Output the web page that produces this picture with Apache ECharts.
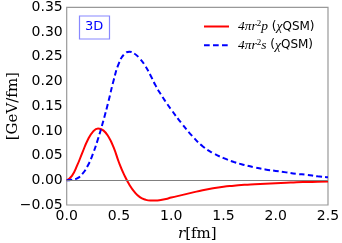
<!DOCTYPE html>
<html><head><meta charset="utf-8">
<script src="https://cdn.jsdelivr.net/npm/echarts@6/dist/echarts.min.js"></script>
<style>html,body{margin:0;padding:0;background:#fff}#c{width:342px;height:243px}</style>
</head><body><div id="c"></div>
<script>
const rValues = [0,0.05,0.1,0.15,0.2,0.25,0.3,0.35,0.4,0.45,0.5,0.55,0.6,0.65,0.7,0.75,0.8,0.85,0.9,0.95,1.0,1.1,1.2,1.3,1.4,1.5,1.6,1.7,1.8,1.9,2.0,2.1,2.2,2.3,2.4,2.5];
const pValues = [0,0.009,0.03,0.056,0.081,0.098,0.105,0.101,0.088,0.066,0.036,0.011,-0.009,-0.024,-0.034,-0.039,-0.041,-0.041,-0.040,-0.038,-0.035,-0.030,-0.025,-0.020,-0.016,-0.013,-0.011,-0.009,-0.008,-0.007,-0.006,-0.005,-0.004,-0.0035,-0.003,-0.0025];
const sValues = [0,0.001,0.004,0.013,0.029,0.053,0.084,0.12,0.16,0.203,0.237,0.255,0.26,0.256,0.246,0.232,0.213,0.192,0.174,0.158,0.143,0.115,0.09,0.069,0.055,0.045,0.037,0.031,0.026,0.022,0.019,0.016,0.013,0.011,0.008,0.006];
const xTicks = [0.0,0.5,1.0,1.5,2.0,2.5];
const yTicks = [-0.05,0,0.05,0.10,0.15,0.20,0.25,0.30,0.35];
const seriesNames = ['p','s'];

const chart = echarts.init(document.getElementById('c'), null, {renderer:'canvas'});
const mathRich = {
  m: {fontFamily:'Liberation Serif', fontStyle:'italic', fontSize:13.5, color:'#000'},
  sup: {fontFamily:'Liberation Serif', fontSize:9, color:'#000', verticalAlign:'top', padding:[0,0,6,0]},
  t: {fontFamily:'DejaVu Sans', fontSize:12, color:'#000'}
};
chart.setOption({
  animation:false,
  grid:{left:66.7, right:14, top:7.3, bottom:38, show:true, borderColor:'#999', borderWidth:1.2, outerBoundsMode:'none', containLabel:false},
  title:{text:'3D', left:79, top:15.5, padding:[5,6,6,6], borderColor:'#8888ff', borderWidth:1.2, backgroundColor:'#fff',
    textStyle:{fontFamily:'DejaVu Sans', fontSize:13, fontWeight:'normal', color:'#0000ff'}},
  legend:{left:204, top:19, padding:0, orient:'vertical', itemWidth:25, itemHeight:14, itemGap:4.3,
    data:[{name:'p', icon:'path://M0,6H25V8H0Z'}, {name:'s', icon:'path://M0,6H5.7V8H0Z M9,6H14.7V8H9Z M18,6H23.7V8H18Z M25,6H25V8H25Z'}],
    formatter:function(n){return '{m|4πr}{sup|2}{m|'+n+'}{t| (}{m|χ}{t|QSM)}';},
    textStyle:{rich:mathRich, padding:[0,0,0,4]}},
  xAxis:{type:'value', min:0, max:2.5, interval:0.5,
    axisLine:{show:false}, axisTick:{show:false}, splitLine:{show:false},
    axisLabel:{fontFamily:'DejaVu Sans', fontSize:14, color:'#000', margin:4,
      formatter:v=>v.toFixed(1)},
    name:'{i|r}{n|[fm]}', nameLocation:'middle', nameGap:22, nameMoveOverlap:false,
    nameTextStyle:{rich:{i:{fontFamily:'DejaVu Serif', fontStyle:'italic', fontSize:15, color:'#000'}, n:{fontFamily:'DejaVu Serif', fontSize:15, color:'#000'}}}},
  yAxis:{type:'value', min:-0.05, max:0.35, interval:0.05,
    axisLine:{show:false}, axisTick:{show:false}, splitLine:{show:false},
    axisLabel:{fontFamily:'DejaVu Sans', fontSize:14, color:'#000', margin:4,
      formatter:v=>(v<0?'\u2212':'')+Math.abs(v).toFixed(2)},
    name:'[GeV/fm]', nameLocation:'middle', nameGap:46, nameMoveOverlap:false,
    nameTextStyle:{fontFamily:'DejaVu Serif', fontSize:15, color:'#000'}},
  series:[
    {name:'p', type:'line', smooth:true, symbol:'none', data:rValues.map((r,i)=>[r,pValues[i]]),
      lineStyle:{color:'#ff0000', width:2}, itemStyle:{color:'#ff0000'}, z:3,
      markLine:{silent:true, symbol:'none', label:{show:false}, data:[{yAxis:0}], lineStyle:{color:'#808080', width:1.2, type:'solid'}}},
    {name:'s', type:'line', smooth:true, symbol:'none', data:rValues.map((r,i)=>[r,sValues[i]]),
      lineStyle:{color:'#0000ff', width:2, type:[5.5,3.2]}, itemStyle:{color:'#0000ff'}, z:4}
  ]
});
</script></body></html>
